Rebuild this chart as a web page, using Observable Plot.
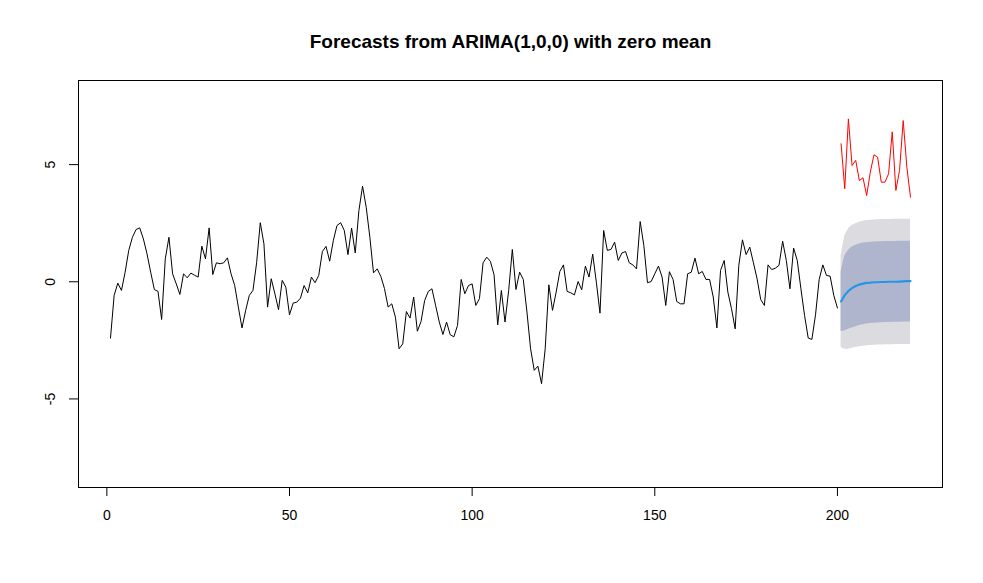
<!DOCTYPE html>
<html><head><meta charset="utf-8">
<script src="https://cdn.jsdelivr.net/npm/d3@7"></script>
<script src="https://cdn.jsdelivr.net/npm/@observablehq/plot@0.6"></script>
<style>body{margin:0;background:#fff;} #chart svg{display:block;}</style>
</head><body><div id="chart"></div>
<script>
const title = "Forecasts from ARIMA(1,0,0) with zero mean";
const observed = [
-2.40,-0.58,-0.06,-0.37,0.41,1.34,1.90,2.23,2.30,1.83,
1.19,0.41,-0.33,-0.41,-1.61,0.98,1.90,0.34,-0.09,-0.54,
0.34,0.17,0.37,0.28,0.20,1.52,0.98,2.30,0.31,0.81,
0.77,0.81,1.02,0.34,-0.16,-1.08,-1.97,-1.22,-0.58,-0.37,
0.81,2.52,1.62,-1.08,0.13,-0.51,-1.19,0.06,-0.23,-1.41,
-0.91,-0.87,-0.70,-0.16,-0.47,0.20,-0.04,0.27,1.29,1.51,
0.88,1.76,2.40,2.52,2.19,1.16,2.29,1.23,3.04,4.08,
3.18,1.90,0.38,0.55,0.23,-0.29,-1.08,-0.94,-1.51,-2.86,
-2.65,-1.27,-1.55,-0.65,-2.11,-1.70,-0.80,-0.41,-0.30,-1.01,
-1.72,-2.25,-1.72,-2.26,-2.35,-1.86,0.10,-0.51,-0.16,-0.09,
-1.01,-0.72,0.81,1.05,0.87,0.30,-1.84,-0.37,-1.72,-0.37,
1.38,-0.33,0.41,0.10,-1.29,-2.86,-3.78,-3.60,-4.35,-2.86,
-0.13,-1.22,-0.44,0.44,0.72,-0.41,-0.47,-0.56,0.01,-0.34,
0.67,0.20,1.18,-0.02,-1.34,2.19,1.34,1.38,1.69,0.91,
1.23,1.29,0.81,0.72,0.55,2.57,1.55,-0.04,0.01,0.34,
0.67,0.20,-1.01,0.43,0.10,-0.84,-0.94,-0.94,0.34,0.41,
1.01,0.34,0.44,0.10,0.10,-0.65,-1.97,0.48,0.91,-0.44,
-1.15,-2.01,0.70,1.79,1.16,1.48,0.81,0.13,-0.76,-1.01,
0.72,0.52,0.58,0.70,1.73,0.91,-0.30,1.44,0.91,-0.30,
-1.44,-2.40,-2.46,-1.41,0.10,0.72,0.27,0.24,-0.58,-1.12
];
const actual = [5.89,3.97,6.95,4.96,5.18,4.32,4.44,3.68,4.68,5.42,
5.32,4.25,4.25,4.61,6.40,3.90,4.75,6.88,4.89,3.61];
const fcMean = [-0.84,-0.57,-0.39,-0.27,-0.18,-0.12,-0.08,-0.05,-0.04,-0.02,
-0.02,-0.01,-0.01,0,0,0,0.01,0.02,0.03,0.03];
const hi95 = [1.12,1.95,2.25,2.40,2.48,2.54,2.58,2.61,2.63,2.64,2.65,2.66,2.66,2.66,2.67,2.67,2.67,2.67,2.67,2.67];
const lo95 = [-2.80,-2.88,-2.88,-2.84,-2.80,-2.77,-2.75,-2.73,-2.72,-2.71,-2.70,-2.70,-2.69,-2.69,-2.69,-2.68,-2.68,-2.68,-2.68,-2.68];
const hi80 = [0.44,1.10,1.35,1.48,1.56,1.61,1.65,1.67,1.69,1.70,1.71,1.71,1.72,1.72,1.72,1.72,1.73,1.73,1.73,1.73];
const lo80 = [-2.12,-2.10,-2.03,-1.97,-1.92,-1.87,-1.83,-1.80,-1.78,-1.77,-1.76,-1.75,-1.74,-1.74,-1.73,-1.73,-1.73,-1.72,-1.72,-1.72];
const xTicks = [0,50,100,150,200];
const yTicks = [-5,0,5];

const obsData = observed.map((v,i)=>({t:i+1, v}));
const actData = actual.map((v,i)=>({t:201+i, v}));
const fcData = fcMean.map((m,i)=>({t:201+i, m, hi95:hi95[i], lo95:lo95[i], hi80:hi80[i], lo80:lo80[i]}));

const chart = Plot.plot({
  width: 983, height: 583,
  marginLeft: 78, marginRight: 41, marginTop: 80, marginBottom: 96,
  style: {fontFamily: "'Liberation Sans', Arial, sans-serif", fontSize: "14px", background: "#fff", color: "#000"},
  x: {domain: [-7.76, 228.76]},
  y: {domain: [-8.78, 8.59]},
  marks: [
    Plot.areaY(fcData, {x: "t", y1: "lo95", y2: "hi95", fill: "#DBDBE0"}),
    Plot.areaY(fcData, {x: "t", y1: "lo80", y2: "hi80", fill: "#B0B5CE"}),
    Plot.lineY(obsData, {x: "t", y: "v", stroke: "#000", strokeWidth: 1}),
    Plot.lineY(fcData, {x: "t", y: "m", stroke: "#2297E6", strokeWidth: 2.2}),
    Plot.lineY(actData, {x: "t", y: "v", stroke: "#FF0000", strokeWidth: 1}),
    Plot.frame({stroke: "#000"}),
    Plot.axisX({ticks: xTicks, tickSize: 9, tickPadding: 14, tickFormat: d => String(d), label: null, fontSize: 14}),
    Plot.axisY({ticks: yTicks, tickSize: 9, tickFormat: () => "", label: null}),
    Plot.text(yTicks, {y: d => d, text: d => String(d), frameAnchor: "left", dx: -28, rotate: -90,
      textAnchor: "middle", lineAnchor: "middle", fontSize: 14, fill: "#000"}),
    Plot.text([title], {text: d => d, frameAnchor: "top", dy: -39, lineAnchor: "middle", textAnchor: "middle",
      fontWeight: "bold", fontSize: 19, fill: "#000"})
  ]
});
document.getElementById("chart").append(chart);
</script>
</body></html>
